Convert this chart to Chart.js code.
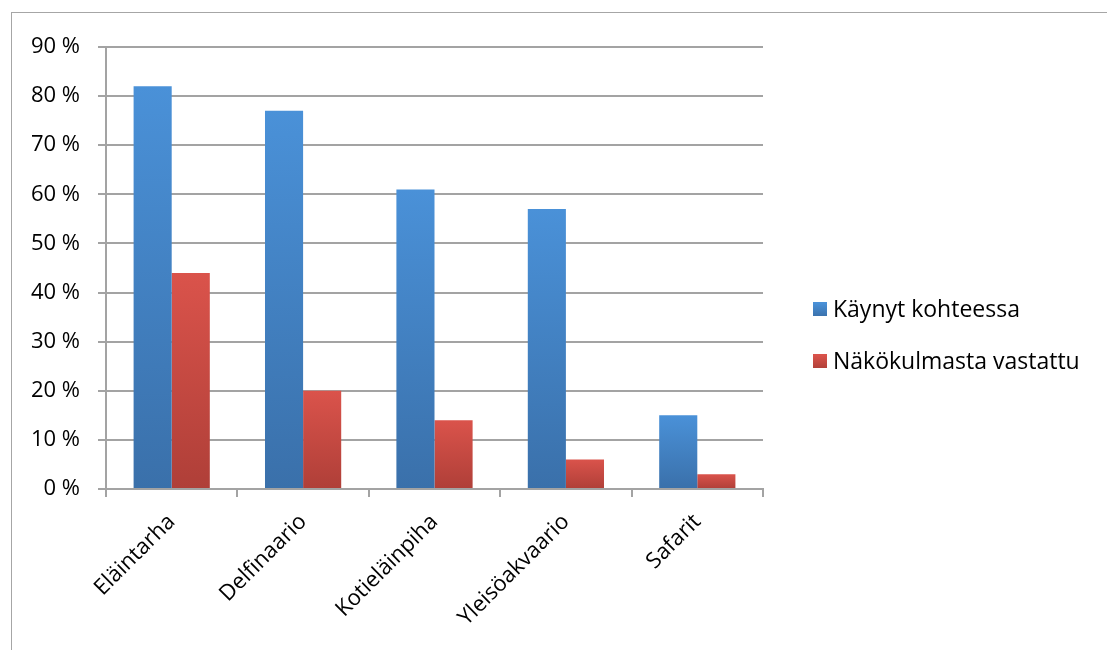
<!DOCTYPE html>
<html>
<head>
<meta charset="utf-8">
<script src="https://cdn.jsdelivr.net/npm/chart.js@4/dist/chart.umd.min.js"></script>
<style>
  html, body { margin: 0; padding: 0; background: #fff; }
  #wrap { position: relative; width: 1107px; height: 650px; overflow: hidden; }
  #frame { position: absolute; left: 11px; top: 12px; width: 1200px; height: 700px; border: 1px solid #a6a6a6; }
  canvas { position: absolute; left: 0; top: 0; }
</style>
</head>
<body>
<div id="wrap">
  <div id="frame"></div>
  <canvas id="myChart" width="1107" height="650"></canvas>
</div>
<script>
var categories = ['Eläintarha', 'Delfinaario', 'Kotieläinpiha', 'Yleisöakvaario', 'Safarit'];
var visited = [82, 77, 61, 57, 15];
var viewpoint = [44, 20, 14, 6, 3];
var seriesNames = ['Käynyt kohteessa', 'Näkökulmasta vastattu'];
var yTicks = [0, 10, 20, 30, 40, 50, 60, 70, 80, 90];

var gridColor = '#a3a3a3';
var fontName = '"Open Sans", Lato, sans-serif';

// gradient per bar, light at the top, darker at the base
function barFill(topColor, bottomColor) {
	return function(context) {
		var chart = context.chart;
		if (!chart.chartArea) return topColor;
		var y = chart.scales.y;
		var top = y.getPixelForValue(context.raw);
		var bottom = y.getPixelForValue(0);
		var g = chart.ctx.createLinearGradient(0, top, 0, bottom);
		g.addColorStop(0, topColor);
		g.addColorStop(1, bottomColor);
		return g;
	};
}

var legendSwatch = [['#4a91d8', '#3a70aa'], ['#da534b', '#af3f38']];

// legend drawn at the right like the original
var sideLegend = {
	id: 'sideLegend',
	afterDraw: function(chart) {
		var ctx = chart.ctx;
		var rows = [310, 362];
		ctx.save();
		ctx.font = '23px ' + fontName;
		ctx.textBaseline = 'middle';
		ctx.fillStyle = '#000';
		for (var i = 0; i < seriesNames.length; i++) {
			var g = ctx.createLinearGradient(0, rows[i] - 7, 0, rows[i] + 7);
			g.addColorStop(0, legendSwatch[i][0]);
			g.addColorStop(1, legendSwatch[i][1]);
			ctx.fillStyle = g;
			ctx.fillRect(813, rows[i] - 8, 14, 14);
			ctx.fillStyle = '#000';
			ctx.fillText(seriesNames[i], 833, rows[i]);
		}
		ctx.restore();
	}
};

var ctx = document.getElementById('myChart').getContext('2d');

var myChart = new Chart(ctx, {
	type: 'bar',
	data: {
		labels: categories,
		datasets: [{
			label: seriesNames[0],
			data: visited,
			backgroundColor: barFill(legendSwatch[0][0], legendSwatch[0][1])
		}, {
			label: seriesNames[1],
			data: viewpoint,
			backgroundColor: barFill(legendSwatch[1][0], legendSwatch[1][1])
		}]
	},
	options: {
		responsive: false,
		animation: false,
		layout: {
			padding: { left: 0, top: 47, right: 344, bottom: 0 }
		},
		datasets: {
			bar: { categoryPercentage: 0.58, barPercentage: 1.0 }
		},
		plugins: {
			legend: { display: false },
			tooltip: { enabled: false }
		},
		scales: {
			x: {
				offset: true,
				grid: {
					offset: true,
					drawOnChartArea: false,
					drawTicks: true,
					tickLength: 8,
					color: gridColor,
					lineWidth: 2
				},
				border: { color: gridColor, width: 2 },
				ticks: {
					color: '#000',
					font: { family: fontName, size: 22 },
					minRotation: 45,
					maxRotation: 45,
					padding: 12
				},
				afterFit: function(scale) { scale.height = 161; }
			},
			y: {
				min: 0,
				max: 90,
				afterBuildTicks: function(scale) {
					scale.ticks = yTicks.map(function(v) { return { value: v }; });
				},
				grid: {
					color: gridColor,
					lineWidth: 2,
					tickLength: 8
				},
				border: { color: gridColor, width: 2 },
				ticks: {
					color: '#000',
					font: { family: fontName, size: 22 },
					padding: 18,
					callback: function(v) { return v + ' %'; }
				},
				afterFit: function(scale) { scale.width = 106; }
			}
		}
	},
	plugins: [sideLegend]
});
</script>
</body>
</html>
